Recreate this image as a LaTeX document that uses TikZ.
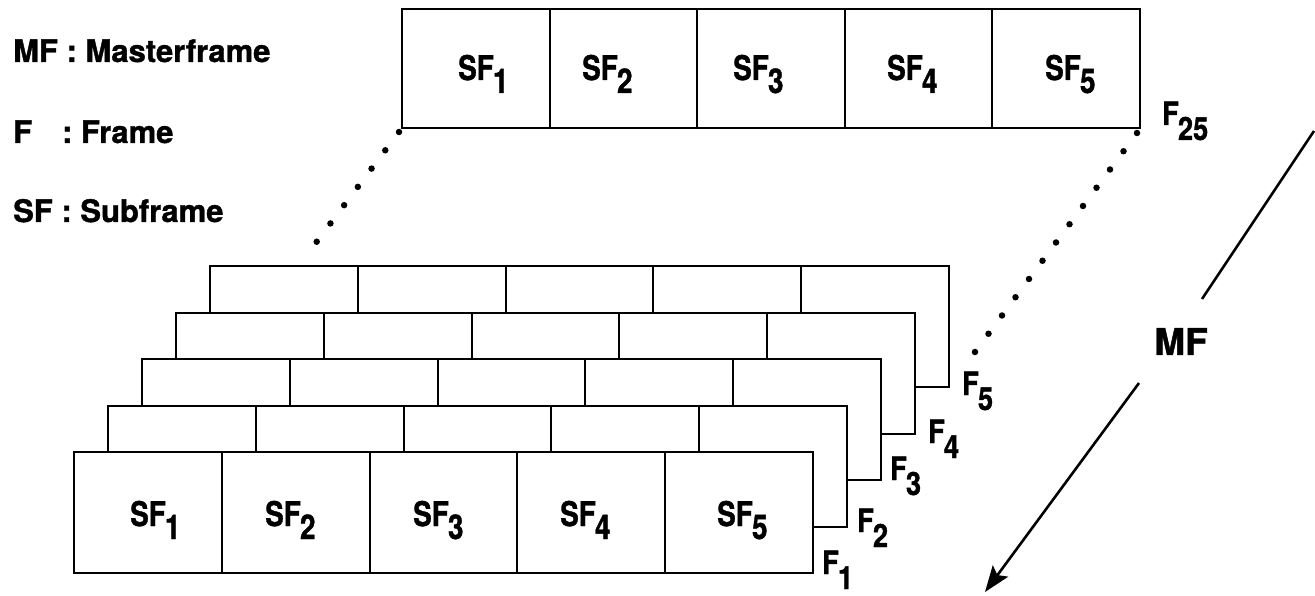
\documentclass[tikz,border=0pt]{standalone}
\usepackage{fontspec}
\usepackage{graphicx}
\setmainfont{TeX Gyre Heros}[BoldFeatures={FakeBold=1.2}]
\usetikzlibrary{arrows.meta}
\newcommand\sflab[1]{\scalebox{0.82}[1]{SF\kern-1pt\raisebox{-13pt}{#1}}}
\newcommand\flab[1]{\scalebox{0.85}[1]{F\kern-1pt\raisebox{-15pt}{#1}}}
\tikzset{
  cell/.style={draw, line width=2pt, fill=white, inner sep=0pt, outer sep=0pt,
    minimum width=147.8pt, minimum height=121pt},
  topcell/.style={cell, minimum width=147.6pt, minimum height=119pt},
  sftext/.style={inner sep=0pt, anchor=base west, font=\fontsize{34}{34}\selectfont\bfseries},
  ftext/.style={inner sep=0pt, anchor=base west, font=\fontsize{32}{32}\selectfont\bfseries},
  legend/.style={inner sep=0pt, anchor=base west, font=\fontsize{31}{31}\selectfont\bfseries},
  dotline/.style={line width=6.5pt, line cap=round, dash pattern=on 0pt off 22.8pt},
  arrowline/.style={line width=2.6pt}
}
\begin{document}
\begin{tikzpicture}[x=1pt,y=-1pt]
\useasboundingbox (0,0) rectangle (1315,596);
% legend
\node[legend] (lgmf) at (13,62) {MF : Masterframe};
\node[legend] (lgf) at (13,143) {F\hspace{30pt}: Frame};
\node[legend] (lgsf) at (13,222) {SF : Subframe};
% top frame F25
\foreach \c in {1,...,5} {
  \node[topcell] (t-\c) at ({402+147.6*(\c-0.5)}, 68.5) {};
}
\node[sftext] (tsf1) at (458,80) {\sflab{1}};
\node[sftext] (tsf2) at (582,80) {\sflab{2}};
\node[sftext] (tsf3) at (733,80) {\sflab{3}};
\node[sftext] (tsf4) at (887,80) {\sflab{4}};
\node[sftext] (tsf5) at (1045,80) {\sflab{5}};
\node[ftext] (lf25) at (1162,125) {\flab{25}};
% stacked frames F5 ... F1
\foreach \k in {5,4,3,2,1} {
  \pgfmathsetmacro\fx{74+34*(\k-1)}
  \pgfmathsetmacro\fy{452-46.5*(\k-1)}
  \foreach \c in {1,...,5} {
    \node[cell] (f\k-\c) at ({\fx+147.8*(\c-0.5)}, {\fy+60.5}) {};
  }
}
\node[sftext] (bsf1) at (130,526) {\sflab{1}};
\node[sftext] (bsf2) at (265,526) {\sflab{2}};
\node[sftext] (bsf3) at (413,526) {\sflab{3}};
\node[sftext] (bsf4) at (560,526) {\sflab{4}};
\node[sftext] (bsf5) at (717,526) {\sflab{5}};
\node[ftext] (lf1) at (822,574) {\flab{1}};
\node[ftext] (lf2) at (857,532) {\flab{2}};
\node[ftext] (lf3) at (890,480) {\flab{3}};
\node[ftext] (lf4) at (928,443) {\flab{4}};
\node[ftext] (lf5) at (962,395) {\flab{5}};
% dotted perspective lines
\coordinate (dl1) at (399,132);
\coordinate (dl2) at (303,260);
\coordinate (dr1) at (1137,133);
\coordinate (dr2) at (975,352);
\draw[dotline, dash pattern=on 0pt off 22.86pt] (dl1) -- (dl2);
\draw[dotline, dash pattern=on 0pt off 22.7pt] (dr1) -- (dr2);
% MF arrow
\node[inner sep=0pt, font=\fontsize{37}{37}\selectfont\bfseries] (mf) at (1181,341.5) {MF};
\coordinate (mfa) at (1314,131);
\coordinate (mfb) at (1202,299);
\coordinate (mfc) at (1139,383);
\coordinate (mfd) at (985,592);
\draw[arrowline] (mfa) -- (mfb);
\draw[arrowline, -{Stealth[length=26pt, width=19pt, inset=5pt]}] (mfc) -- (mfd);
\end{tikzpicture}
\end{document}
